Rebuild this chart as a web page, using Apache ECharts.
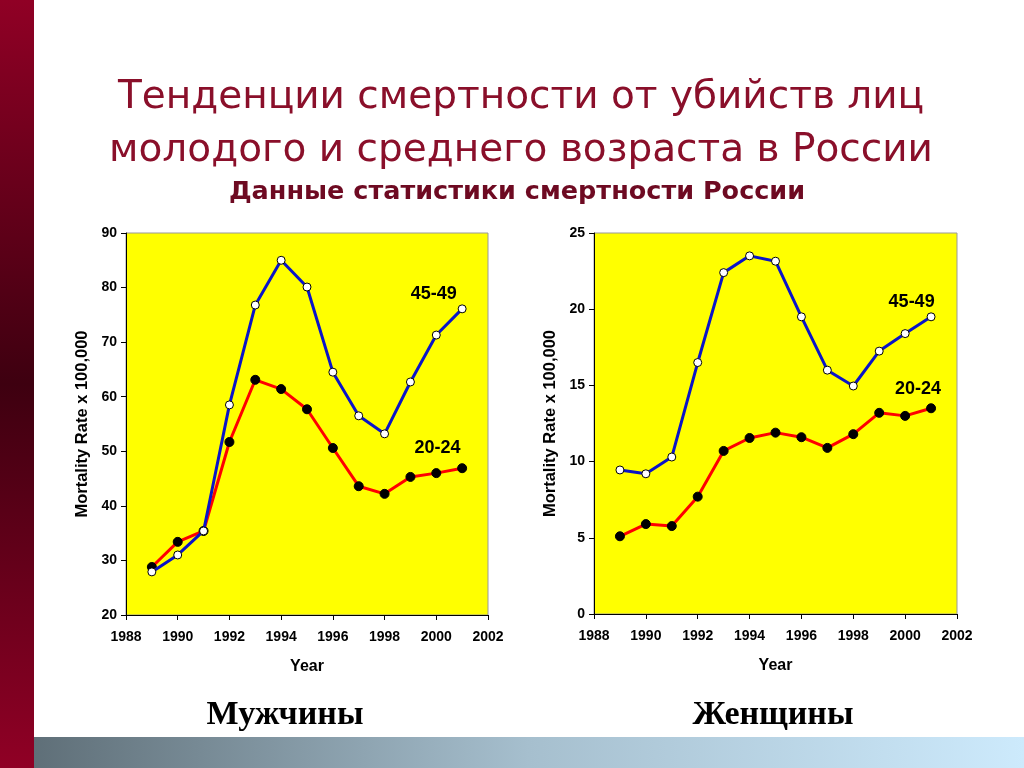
<!DOCTYPE html>
<html><head><meta charset="utf-8">
<script src="https://cdn.jsdelivr.net/npm/echarts@6/dist/echarts.min.js"></script>
<style>html,body{margin:0;padding:0;background:#fff}#c{width:1024px;height:768px}</style>
</head><body><div id="c"></div>
<script>
const years = [1989,1990,1991,1992,1993,1994,1995,1996,1997,1998,1999,2000,2001];
const men45 = [27.9,31.0,35.4,58.5,76.8,85.0,80.1,64.5,56.5,53.2,62.7,71.3,76.1];
const men20 = [28.8,33.4,35.4,51.7,63.1,61.4,57.7,50.6,43.6,42.2,45.3,46.0,46.9];
const women45 = [9.45,9.2,10.3,16.5,22.4,23.5,23.15,19.5,16.0,14.96,17.25,18.4,19.5];
const women20 = [5.1,5.9,5.77,7.7,10.7,11.55,11.9,11.6,10.9,11.8,13.2,13.0,13.5];
const groupLabels = ['45-49','20-24'];

const pair = (ys) => years.map((y,i)=>[y,ys[i]]);
const chart = echarts.init(document.getElementById('c'));
const axisFont = {fontFamily:'Liberation Sans, Arial', fontWeight:'bold', fontSize:14, color:'#000'};
function xAxis(gi){return {type:'value',gridIndex:gi,min:1988,max:2002,interval:2,
  axisLine:{lineStyle:{color:'#000',width:1}},axisTick:{show:true,length:5,lineStyle:{color:'#000'}},
  splitLine:{show:false},axisLabel:Object.assign({margin:15,formatter:(v)=>String(v)},axisFont),
  name:'Year',nameLocation:'middle',nameGap:44,nameTextStyle:{fontFamily:'Liberation Sans, Arial',fontWeight:'bold',fontSize:16,color:'#000'}};}
function yAxis(gi,min,max,iv){return {type:'value',gridIndex:gi,min:min,max:max,interval:iv,
  axisLine:{show:true,lineStyle:{color:'#000',width:1}},axisTick:{show:true,length:5,lineStyle:{color:'#000'}},
  splitLine:{show:false},axisLabel:Object.assign({margin:9},axisFont),
  name:'Mortality Rate x 100,000',nameLocation:'middle',nameGap:35,nameTextStyle:{fontFamily:'Liberation Sans, Arial',fontWeight:'bold',fontSize:16.5,color:'#000'}};}
function mp(lab,coord){return {symbol:'rect',symbolSize:1,itemStyle:{color:'transparent'},
   label:{show:true,formatter:lab,color:'#000',fontFamily:'Liberation Sans, Arial',fontWeight:'bold',fontSize:18},
   data:[{coord:coord}]};}
function blue(gi,data,lab,coord){return {type:'line',xAxisIndex:gi,yAxisIndex:gi,data:pair(data),
  lineStyle:{color:'#0a14c8',width:3},symbol:'circle',symbolSize:8,
  itemStyle:{color:'#fff',borderColor:'#000',borderWidth:1},z:3,markPoint:mp(lab,coord)};}
function red(gi,data,lab,coord){return {type:'line',xAxisIndex:gi,yAxisIndex:gi,data:pair(data),
  lineStyle:{color:'#ff0000',width:3},symbol:'circle',symbolSize:9,
  itemStyle:{color:'#000',borderColor:'#000',borderWidth:1},z:2,markPoint:mp(lab,coord)};}
chart.setOption({
  animation:false,
  title:[
    {text:'Тенденции смертности от убийств лиц\nмолодого и среднего возраста в России',left:516,textAlign:'center',top:66,
     textStyle:{fontFamily:'DejaVu Sans, Verdana',fontWeight:'normal',fontSize:39,color:'#8a0f2a',lineHeight:53}},
    {text:'Данные статистики смертности России',left:512,textAlign:'center',top:174,
     textStyle:{fontFamily:'DejaVu Sans, Verdana',fontWeight:'bold',fontSize:25.5,color:'#6e0a22'}},
    {text:'Мужчины',left:280,textAlign:'center',top:693,
     textStyle:{fontFamily:'Liberation Serif, Times New Roman',fontWeight:'bold',fontSize:34,color:'#000'}},
    {text:'Женщины',left:768,textAlign:'center',top:693,
     textStyle:{fontFamily:'Liberation Serif, Times New Roman',fontWeight:'bold',fontSize:34,color:'#000'}}
  ],
  graphic:[
    {type:'rect',left:0,top:0,shape:{width:34,height:768},
     style:{fill:new echarts.graphic.LinearGradient(0,0,0,1,[{offset:0,color:'#900025'},{offset:0.5,color:'#3e0010'},{offset:1,color:'#900025'}])}},
    {type:'rect',left:34,top:737,shape:{width:990,height:31},
     style:{fill:new echarts.graphic.LinearGradient(0,0,1,0,[{offset:0,color:'#5f6f78'},{offset:0.5,color:'#a6bfce'},{offset:1,color:'#cdeafc'}])}}
  ],
  grid:[
    {left:126,right:536,top:233,bottom:153,show:true,backgroundColor:'#ffff00',borderColor:'#999',borderWidth:1},
    {left:594,right:67,top:233,bottom:154,show:true,backgroundColor:'#ffff00',borderColor:'#999',borderWidth:1}
  ],
  xAxis:[xAxis(0),xAxis(1)],
  yAxis:[yAxis(0,20,90,10),yAxis(1,0,25,5)],
  series:[
    blue(0,men45,groupLabels[0],[1999.9,78.8]),
    red(0,men20,groupLabels[1],[2000.05,50.55]),
    blue(1,women45,groupLabels[0],[2000.25,20.5]),
    red(1,women20,groupLabels[1],[2000.5,14.75])
  ]
});
</script></body></html>
